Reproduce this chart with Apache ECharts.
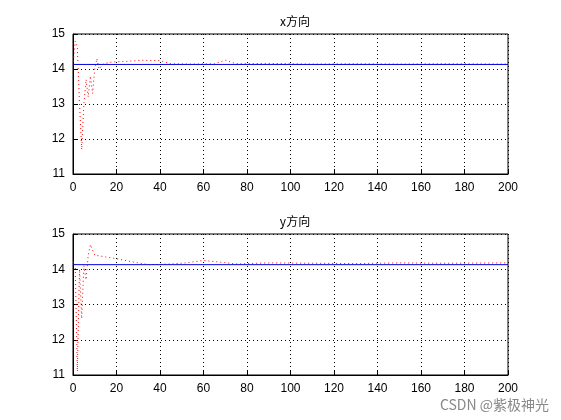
<!DOCTYPE html>
<html><head><meta charset="utf-8">
<script src="https://cdn.jsdelivr.net/npm/echarts@6/dist/echarts.min.js"></script>
</head><body style="margin:0;background:#fff">
<div id="main" style="width:561px;height:420px"></div>
<script>
var ref = 14.13;
var xSteps = [0, 1, 2, 3, 4, 5, 6, 7, 8, 9, 10, 11, 12, 14, 18, 25, 32, 40, 45, 55, 65, 70, 75, 90, 110, 130, 150, 170, 200];
var xResp  = [14.1, 14.8, 14.6, 13.0, 11.7, 13.0, 13.7, 13.2, 13.8, 13.3, 14.0, 14.3, 14.0, 14.15, 14.2, 14.22, 14.25, 14.24, 14.15, 14.14, 14.15, 14.25, 14.15, 14.16, 14.14, 14.15, 14.14, 14.15, 14.14];
var ySteps = [0, 1, 2, 3, 4, 5, 6, 7, 8, 10, 15, 20, 28, 35, 45, 52, 60, 68, 75, 90, 110, 130, 150, 170, 200];
var yResp  = [14.2, 14.2, 11.1, 14.0, 12.6, 14.1, 13.7, 14.4, 14.7, 14.4, 14.35, 14.3, 14.2, 14.13, 14.15, 14.18, 14.25, 14.2, 14.15, 14.18, 14.17, 14.16, 14.18, 14.17, 14.18];
var xTicks = [0, 20, 40, 60, 80, 100, 120, 140, 160, 180, 200];
var yTicks = [11, 12, 13, 14, 15];

function zip(a, b) { return a.map(function (v, i) { return [v, b[i]]; }); }
var font = { fontFamily: 'Liberation Sans', fontSize: 12, color: '#000' };
function xAx(i) {
  return { type: 'value', gridIndex: i, min: 0, max: 200, interval: 20,
    axisLine: { lineStyle: { color: '#000' } }, axisTick: { inside: true, lineStyle: { color: '#000' } },
    axisLabel: font, splitLine: { lineStyle: { color: '#000', type: [1, 3] } } };
}
function yAx(i) {
  return { type: 'value', gridIndex: i, min: 11, max: 15, interval: 1,
    axisLine: { show: true, lineStyle: { color: '#000' } }, axisTick: { inside: true, lineStyle: { color: '#000' } },
    axisLabel: font, splitLine: { lineStyle: { color: '#000', type: [1, 3] } } };
}
var tstyle = { fontSize: 12, fontWeight: 'normal', color: '#000', fontFamily: 'Noto Sans CJK SC' };
var chart = echarts.init(document.getElementById('main'));
chart.setOption({
  animation: false,
  title: [
    { text: 'x方向', left: 290, top: 10, textAlign: 'center', textStyle: tstyle },
    { text: 'y方向', left: 290, top: 210, textAlign: 'center', textStyle: tstyle }
  ],
  grid: [
    { left: 73, width: 435, top: 34, height: 140, show: true, borderColor: '#000', backgroundColor: '#fff' },
    { left: 73, width: 435, top: 234, height: 141, show: true, borderColor: '#000', backgroundColor: '#fff' }
  ],
  xAxis: [xAx(0), xAx(1)],
  yAxis: [yAx(0), yAx(1)],
  series: [
    { type: 'line', xAxisIndex: 0, yAxisIndex: 0, data: zip(xSteps, xResp), showSymbol: false, lineStyle: { color: '#f00', width: 1, type: [1, 3] } },
    { type: 'line', xAxisIndex: 0, yAxisIndex: 0, data: [[0, ref], [200, ref]], showSymbol: false, lineStyle: { color: '#0000dd', width: 1 } },
    { type: 'line', xAxisIndex: 1, yAxisIndex: 1, data: zip(ySteps, yResp), showSymbol: false, lineStyle: { color: '#f00', width: 1, type: [1, 3] } },
    { type: 'line', xAxisIndex: 1, yAxisIndex: 1, data: [[0, ref], [200, ref]], showSymbol: false, lineStyle: { color: '#0000dd', width: 1 } }
  ],
  graphic: [{ type: 'text', right: 12, bottom: 8, style: { text: 'CSDN @紫极神光', fill: '#888', font: '14px "Noto Sans CJK SC"' } }]
});
</script></body></html>
